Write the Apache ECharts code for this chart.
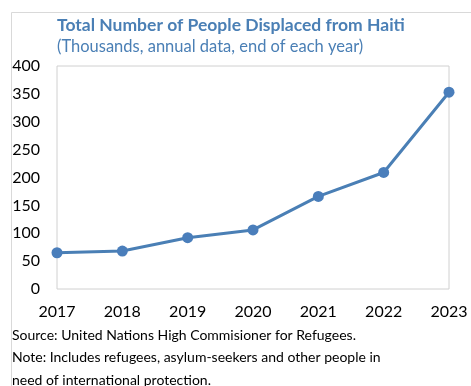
<!DOCTYPE html>
<html>
<head>
<meta charset="utf-8">
<script src="https://cdn.jsdelivr.net/npm/echarts@6/dist/echarts.min.js"></script>
<style>
  html, body { margin: 0; padding: 0; background: #fff; }
  #main { width: 471px; height: 386px; }
</style>
</head>
<body>
<div id="main"></div>
<script>
    // data (thousands of people)
    var years = ['2017', '2018', '2019', '2020', '2021', '2022', '2023'];
    var displaced = [65, 68, 92, 106, 166, 209, 353];
    var yTicks = [0, 50, 100, 150, 200, 250, 300, 350, 400];

    var blue = '#4a7fb5';
    var font = 'Lato';

    var chartDom = document.getElementById('main');
    var myChart = echarts.init(chartDom);

    var option = {
        backgroundColor: '#fff',
        animation: false,
        title: [
            {
                text: 'Total Number of People Displaced from Haiti',
                left: 57,
                top: 16,
                padding: 0,
                textStyle: { color: blue, fontFamily: font, fontSize: 17.5, fontWeight: 'bold' }
            },
            {
                text: '(Thousands, annual data, end of each year)',
                left: 57,
                top: 38,
                padding: 0,
                textStyle: { color: blue, fontFamily: font, fontSize: 16.5, fontWeight: 'normal' }
            },
            {
                text: 'Source: United Nations High Commisioner for Refugees.\nNote: Includes refugees, asylum-seekers and other people in\nneed of international protection.',
                left: 12,
                top: 324,
                padding: 0,
                textStyle: { color: '#000', fontFamily: font, fontSize: 14, fontWeight: 'normal', lineHeight: 22.5 }
            }
        ],
        graphic: [
            {
                type: 'polyline',
                silent: true,
                shape: { points: [[11.5, 386], [11.5, 12.5], [471, 12.5]] },
                style: { stroke: '#d9d9d9', lineWidth: 1, fill: null }
            }
        ],
        grid: {
            left: 57,
            right: 22,
            top: 66,
            bottom: 97,
            show: true,
            borderColor: '#d0d0d0',
            borderWidth: 1
        },
        xAxis: {
            type: 'category',
            data: years,
            boundaryGap: false,
            axisLine: { show: false },
            axisTick: { show: false },
            axisLabel: { color: '#000', fontFamily: font, fontSize: 16, margin: 15 }
        },
        yAxis: {
            type: 'value',
            min: yTicks[0],
            max: yTicks[yTicks.length - 1],
            interval: yTicks[1] - yTicks[0],
            axisLine: { show: false },
            axisTick: { show: false },
            splitLine: { show: false },
            axisLabel: { color: '#000', fontFamily: font, fontSize: 16, margin: 17 }
        },
        series: [
            {
                name: 'Displaced',
                type: 'line',
                data: displaced,
                symbol: 'circle',
                symbolSize: 11,
                lineStyle: { color: blue, width: 3 },
                itemStyle: { color: '#4a7ebb' }
            }
        ]
    };

    myChart.setOption(option);
</script>
</body>
</html>
